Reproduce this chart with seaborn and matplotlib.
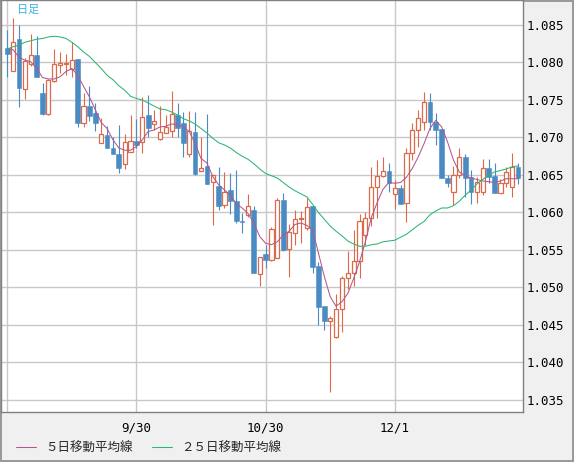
import numpy as np
import pandas as pd
import matplotlib
matplotlib.use("Agg")
import matplotlib.pyplot as plt
import seaborn as sb

# daily candles (index 0 = first visible day)
opens = [1.0819, 1.0789, 1.0831, 1.0765, 1.0798, 1.0810, 1.0759, 1.0731, 1.0775, 1.0797,
         1.0798, 1.0791, 1.0805, 1.0719, 1.0742, 1.0733, 1.0693, 1.0703, 1.0686, 1.0678,
         1.0665, 1.0681, 1.0695, 1.0694, 1.0730, 1.0718, 1.0698, 1.0706, 1.0709, 1.0730,
         1.0719, 1.0678, 1.0707, 1.0655, 1.0662, 1.0641, 1.0635, 1.0610, 1.0630, 1.0615,
         1.0589, 1.0597, 1.0603, 1.0518, 1.0545, 1.0537, 1.0539, 1.0617, 1.0551, 1.0573,
         1.0591, 1.0579, 1.0609, 1.0529, 1.0475, 1.0455, 1.0434, 1.0471, 1.0513, 1.0519,
         1.0535, 1.0570, 1.0593, 1.0634, 1.0649, 1.0655, 1.0625, 1.0633, 1.0613, 1.0679,
         1.0710, 1.0721, 1.0747, 1.0721, 1.0711, 1.0646, 1.0627, 1.0650, 1.0674, 1.0647,
         1.0627, 1.0627, 1.0659, 1.0649, 1.0626, 1.0639, 1.0634, 1.0661]
highs = [1.0843, 1.0859, 1.0850, 1.0806, 1.0838, 1.0835, 1.0773, 1.0778, 1.0818, 1.0814,
         1.0811, 1.0827, 1.0805, 1.0759, 1.0769, 1.0746, 1.0726, 1.0715, 1.0701, 1.0717,
         1.0705, 1.0730, 1.0725, 1.0754, 1.0757, 1.0737, 1.0742, 1.0730, 1.0762, 1.0746,
         1.0734, 1.0735, 1.0734, 1.0701, 1.0731, 1.0650, 1.0661, 1.0654, 1.0653, 1.0657,
         1.0599, 1.0625, 1.0609, 1.0541, 1.0557, 1.0580, 1.0619, 1.0626, 1.0585, 1.0603,
         1.0602, 1.0619, 1.0609, 1.0534, 1.0475, 1.0462, 1.0491, 1.0515, 1.0549, 1.0577,
         1.0598, 1.0600, 1.0661, 1.0670, 1.0674, 1.0666, 1.0643, 1.0637, 1.0686, 1.0719,
         1.0737, 1.0761, 1.0759, 1.0733, 1.0711, 1.0650, 1.0662, 1.0686, 1.0678, 1.0657,
         1.0647, 1.0671, 1.0671, 1.0666, 1.0645, 1.0661, 1.0679, 1.0666]
lows = [1.0781, 1.0789, 1.0741, 1.0751, 1.0795, 1.0781, 1.0730, 1.0730, 1.0774, 1.0786,
        1.0783, 1.0781, 1.0714, 1.0714, 1.0722, 1.0709, 1.0693, 1.0686, 1.0678, 1.0653,
        1.0658, 1.0681, 1.0686, 1.0679, 1.0701, 1.0710, 1.0697, 1.0706, 1.0701, 1.0701,
        1.0674, 1.0674, 1.0650, 1.0655, 1.0638, 1.0583, 1.0603, 1.0606, 1.0598, 1.0586,
        1.0572, 1.0594, 1.0519, 1.0502, 1.0526, 1.0535, 1.0539, 1.0549, 1.0514, 1.0557,
        1.0559, 1.0577, 1.0519, 1.0450, 1.0443, 1.0361, 1.0433, 1.0441, 1.0498, 1.0502,
        1.0513, 1.0557, 1.0582, 1.0593, 1.0647, 1.0627, 1.0605, 1.0611, 1.0587, 1.0670,
        1.0687, 1.0710, 1.0710, 1.0690, 1.0646, 1.0634, 1.0610, 1.0646, 1.0621, 1.0611,
        1.0613, 1.0623, 1.0639, 1.0626, 1.0626, 1.0634, 1.0621, 1.0638]
closes = [1.0811, 1.0827, 1.0766, 1.0802, 1.0810, 1.0781, 1.0731, 1.0777, 1.0798, 1.0799,
          1.0799, 1.0803, 1.0719, 1.0742, 1.0729, 1.0719, 1.0705, 1.0686, 1.0678, 1.0659,
          1.0694, 1.0695, 1.0690, 1.0727, 1.0713, 1.0722, 1.0707, 1.0714, 1.0731, 1.0713,
          1.0693, 1.0709, 1.0651, 1.0659, 1.0638, 1.0650, 1.0609, 1.0627, 1.0615, 1.0589,
          1.0587, 1.0609, 1.0519, 1.0541, 1.0537, 1.0578, 1.0617, 1.0550, 1.0574, 1.0591,
          1.0593, 1.0607, 1.0527, 1.0474, 1.0455, 1.0459, 1.0471, 1.0513, 1.0519, 1.0535,
          1.0589, 1.0593, 1.0634, 1.0649, 1.0655, 1.0639, 1.0633, 1.0611, 1.0679, 1.0710,
          1.0726, 1.0747, 1.0721, 1.0710, 1.0646, 1.0639, 1.0650, 1.0674, 1.0646, 1.0627,
          1.0641, 1.0659, 1.0647, 1.0626, 1.0639, 1.0654, 1.0661, 1.0646]

ma5 = [1.0819, 1.0817, 1.0807, 1.0803, 1.0801, 1.0792, 1.0780, 1.0778, 1.0778, 1.0781,
       1.0788, 1.0792, 1.0783, 1.0768, 1.0754, 1.0737, 1.0720, 1.0712, 1.0697, 1.0686,
       1.0683, 1.0683, 1.0688, 1.0697, 1.0708, 1.0710, 1.0714, 1.0715, 1.0718, 1.0717,
       1.0714, 1.0708, 1.0692, 1.0672, 1.0666, 1.0648, 1.0637, 1.0630, 1.0623, 1.0612,
       1.0606, 1.0599, 1.0586, 1.0568, 1.0559, 1.0557, 1.0561, 1.0570, 1.0575, 1.0584,
       1.0586, 1.0583, 1.0577, 1.0546, 1.0515, 1.0488, 1.0475, 1.0481, 1.0492, 1.0512,
       1.0534, 1.0561, 1.0593, 1.0613, 1.0631, 1.0640, 1.0639, 1.0640, 1.0647, 1.0659,
       1.0674, 1.0692, 1.0712, 1.0723, 1.0714, 1.0694, 1.0670, 1.0654, 1.0649, 1.0646,
       1.0644, 1.0642, 1.0641, 1.0640, 1.0642, 1.0645, 1.0645, 1.0645]
ma25 = [1.0818, 1.0821, 1.0823, 1.0827, 1.0829, 1.0831, 1.0832, 1.0834, 1.0835, 1.0834,
        1.0832, 1.0827, 1.0821, 1.0814, 1.0808, 1.0800, 1.0792, 1.0783, 1.0777, 1.0769,
        1.0763, 1.0755, 1.0752, 1.0750, 1.0746, 1.0742, 1.0738, 1.0737, 1.0734, 1.0730,
        1.0725, 1.0722, 1.0718, 1.0712, 1.0706, 1.0699, 1.0693, 1.0690, 1.0686, 1.0680,
        1.0675, 1.0671, 1.0665, 1.0658, 1.0652, 1.0649, 1.0646, 1.0640, 1.0634, 1.0629,
        1.0625, 1.0621, 1.0611, 1.0600, 1.0591, 1.0582, 1.0575, 1.0569, 1.0562, 1.0558,
        1.0555, 1.0555, 1.0557, 1.0558, 1.0561, 1.0562, 1.0563, 1.0567, 1.0571, 1.0577,
        1.0583, 1.0588, 1.0597, 1.0602, 1.0606, 1.0606, 1.0609, 1.0615, 1.0623, 1.0630,
        1.0638, 1.0644, 1.0650, 1.0654, 1.0656, 1.0658, 1.0661, 1.0662]

date_pos = [0, 22, 44, 66]
date_labels = ["", "9/30", "10/30", "12/1"]
price_ticks = [1.035, 1.040, 1.045, 1.050, 1.055, 1.060, 1.065, 1.070, 1.075, 1.080, 1.085]

RED = "#dc6a4a"
BLUE = "#4a8bc4"
MAUVE = "#b5578c"
GREEN = "#2bb673"
JP = ["Noto Sans CJK JP", "DejaVu Sans"]


def main():
    sb.set_style("white")
    plt.rcParams["font.family"] = ["DejaVu Sans Mono", "Noto Sans CJK JP"]

    data = pd.DataFrame({"O": opens, "H": highs, "L": lows, "C": closes,
                         "MA5": ma5, "MA25": ma25})
    data["DAY"] = np.arange(len(data))
    up = data[data.C >= data.O]
    down = data[data.C < data.O]

    fig = plt.figure(figsize=(5.74, 4.62), dpi=100, facecolor="#f0f0f0",
                     edgecolor="#9a9a9a", linewidth=1.5)
    ax = fig.add_axes([1 / 574, 50 / 462, 522 / 574, 412 / 462])
    ax.set_facecolor("white")

    # wicks then bodies
    ax.vlines(up.DAY, up.L, up.H, color=RED, lw=0.8, zorder=2)
    ax.vlines(down.DAY, down.L, down.H, color=BLUE, lw=0.8, zorder=2)
    ax.bar(up.DAY, up.C - up.O, bottom=up.O, width=0.72, facecolor="white",
           edgecolor=RED, lw=0.9, zorder=3)
    ax.bar(down.DAY, down.C - down.O, bottom=down.O, width=0.8, color=BLUE,
           edgecolor=BLUE, lw=0.4, zorder=3)

    sb.lineplot(x=data.DAY, y=data.MA5, ax=ax, color=MAUVE, lw=0.75,
                label="５日移動平均線", zorder=4)
    sb.lineplot(x=data.DAY, y=data.MA25, ax=ax, color=GREEN, lw=0.75,
                label="２５日移動平均線", zorder=4)
    handles, labels = ax.get_legend_handles_labels()
    ax.get_legend().remove()

    ax.set_xlim(-1.07, 87.85)
    ax.set_ylim(1.0334, 1.08833)
    ax.set_xticks(date_pos, date_labels)
    ax.set_yticks(price_ticks, ["%.3f" % p for p in price_ticks])
    ax.yaxis.tick_right()
    ax.tick_params(axis="both", length=0, labelsize=9, colors="black")
    ax.tick_params(axis="y", pad=2.5)
    ax.tick_params(axis="x", pad=6.5)
    ax.set_xlabel("")
    ax.set_ylabel("")
    ax.grid(True, color="#c8c8c8", lw=1)
    ax.set_axisbelow(True)
    for s in ax.spines.values():
        s.set_color("#808080")
        s.set_linewidth(1)

    fig.text(17 / 574, 1 - 10 / 462, "日足", color="#35b3e6", fontsize=8,
             family=JP, ha="left", va="center")

    fig.legend(handles, labels, loc="center left",
               bbox_to_anchor=(16 / 574, 14 / 462), ncol=2, frameon=False,
               borderpad=0, borderaxespad=0, handlelength=1.6,
               handletextpad=0.75, columnspacing=1.5,
               prop={"family": JP, "size": 9})

    fig.savefig("out.png", dpi=100, facecolor=fig.get_facecolor(),
                edgecolor=fig.get_edgecolor())


if __name__ == "__main__":
    main()
